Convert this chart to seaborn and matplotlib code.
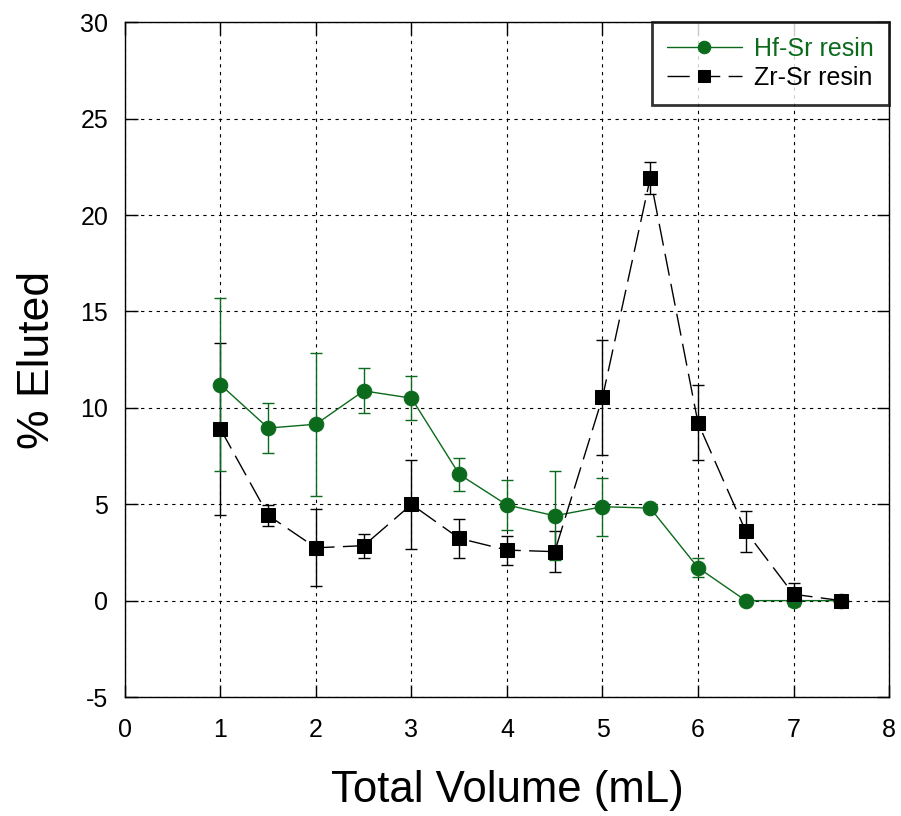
import matplotlib
matplotlib.use("Agg")
import matplotlib.pyplot as plt
import seaborn as sns
import pandas as pd
import numpy as np

volume_hf = [1, 1.5, 2, 2.5, 3, 3.5, 4, 4.5, 5, 5.5, 6, 6.5, 7, 7.5]
eluted_hf = [11.2, 8.95, 9.15, 10.88, 10.5, 6.55, 4.96, 4.4, 4.87, 4.8, 1.71, 0.0, 0.0, 0.0]
err_hf = [4.5, 1.3, 3.7, 1.16, 1.15, 0.86, 1.3, 2.3, 1.5, 0.0, 0.5, 0.0, 0.0, 0.0]

volume_zr = [1, 1.5, 2, 2.5, 3, 3.5, 4, 4.5, 5, 5.5, 6, 6.5, 7, 7.5]
eluted_zr = [8.9, 4.42, 2.74, 2.85, 4.99, 3.23, 2.62, 2.54, 10.54, 21.92, 9.22, 3.6, 0.33, 0.0]
err_zr = [4.45, 0.53, 2.0, 0.62, 2.3, 1.0, 0.75, 1.05, 3.0, 0.85, 1.95, 1.07, 0.6, 0.0]

x_ticks = [0, 1, 2, 3, 4, 5, 6, 7, 8]
y_ticks = [-5, 0, 5, 10, 15, 20, 25, 30]

GREEN = "#0b6a1c"

sns.set_theme(style="white", rc={"text.color": "black", "axes.labelcolor": "black",
                                 "xtick.color": "black", "ytick.color": "black"})
plt.rcParams["font.family"] = ["Liberation Sans", "DejaVu Sans"]

fig = plt.figure(figsize=(9.01, 8.16), dpi=100)
ax = fig.add_axes([0.1387, 0.1458, 0.848, 0.827])

df_hf = pd.DataFrame({"x": volume_hf, "y": eluted_hf})
df_zr = pd.DataFrame({"x": volume_zr, "y": eluted_zr})

# error bars
ax.errorbar(volume_zr, eluted_zr, yerr=err_zr, fmt="none", ecolor="black",
            elinewidth=1.0, capsize=4, capthick=1.0, zorder=3)
ax.errorbar(volume_hf, eluted_hf, yerr=err_hf, fmt="none", ecolor=GREEN,
            elinewidth=1.0, capsize=4, capthick=1.0, zorder=3)

sns.lineplot(data=df_hf, x="x", y="y", ax=ax, color=GREEN, linewidth=1.0,
             marker="o", markersize=10.5, markeredgecolor=GREEN,
             markerfacecolor=GREEN, label="Hf-Sr resin", zorder=4)
sns.lineplot(data=df_zr, x="x", y="y", ax=ax, color="black", linewidth=1.0,
             marker="s", markersize=10.5, markeredgecolor="black",
             markerfacecolor="black", label="Zr-Sr resin", zorder=5,
             dashes=False)
ax.lines[-1].set_dashes([16, 6])

ax.set_xlim(0, 8)
ax.set_ylim(-5, 30)
ax.set_xticks(x_ticks)
ax.set_yticks(y_ticks)
ax.set_xticklabels([str(t) for t in x_ticks], fontsize=18)
ax.set_yticklabels([str(t) for t in y_ticks], fontsize=18)
ax.tick_params(direction="in", length=9, width=1, colors="black",
               bottom=True, left=True, top=True, right=True)
ax.tick_params(axis="x", pad=15)
ax.tick_params(axis="y", pad=12)
ax.grid(True, color="black", linestyle=(0, (3, 4)), linewidth=0.8)
for s in ax.spines.values():
    s.set_color("black")
    s.set_linewidth(1.0)

ax.set_xlabel("Total Volume (mL)", fontsize=31.5, labelpad=20)
ax.set_ylabel("% Eluted", fontsize=32, labelpad=16)

leg = ax.legend(loc="upper right", fontsize=18, frameon=True, fancybox=False,
                handlelength=3.0, borderaxespad=0.0, borderpad=0.6,
                labelspacing=0.2, handletextpad=0.5)
leg.get_frame().set_edgecolor("black")
leg.get_frame().set_linewidth(2.0)
leg.get_texts()[0].set_color(GREEN)
for h in leg.legend_handles:
    h.set_markersize(9)

fig.savefig("out.png", dpi=100)
